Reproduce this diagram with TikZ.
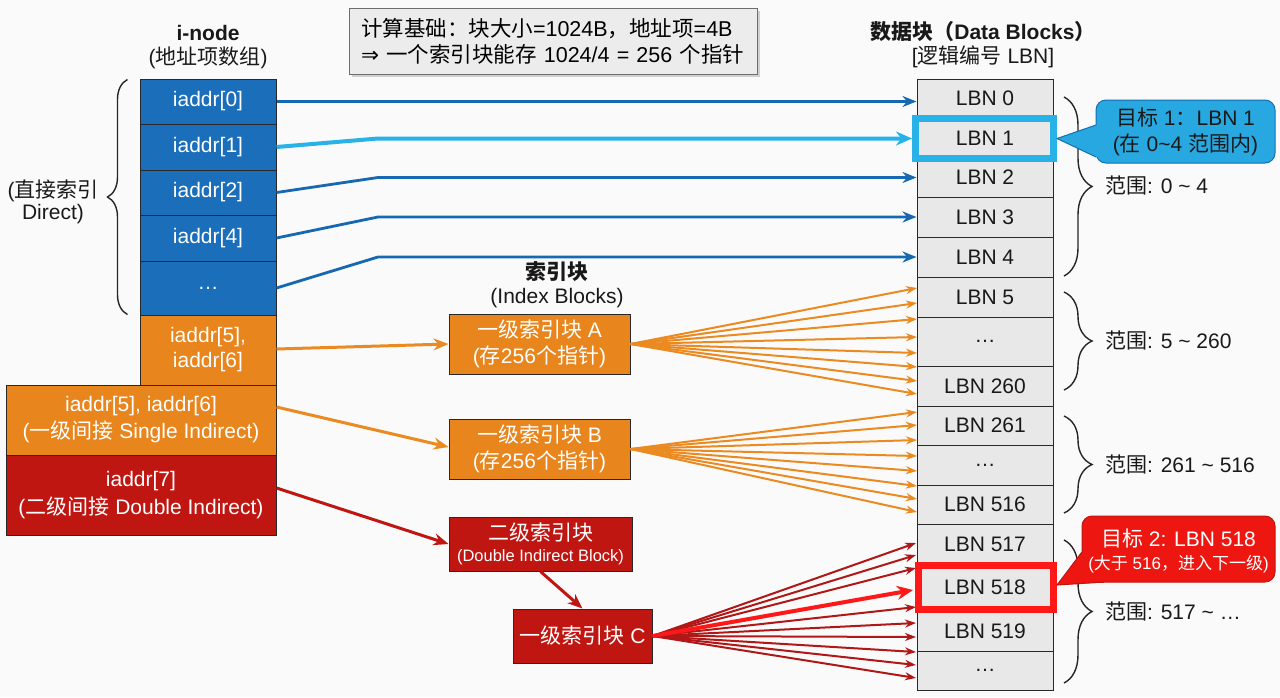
\documentclass[tikz,border=0pt]{standalone}
\usepackage{fontspec}
\setmainfont{Liberation Sans}
\newfontfamily\zhf{Noto Sans CJK SC}
\newfontfamily\symf{DejaVu Sans}
\newcommand{\zht}[1]{{\zhf #1}}
\usetikzlibrary{decorations.pathreplacing,shadows,arrows.meta,calc}
\definecolor{bgc}{RGB}{250,250,250}
\definecolor{edge}{RGB}{40,40,40}
\definecolor{dblue}{RGB}{26,110,186}
\definecolor{ablue}{RGB}{22,104,176}
\definecolor{lblue}{RGB}{40,178,232}
\definecolor{cblue}{RGB}{40,168,224}
\definecolor{cbluedk}{RGB}{20,110,180}
\definecolor{orng}{RGB}{232,133,28}
\definecolor{aorng}{RGB}{234,138,32}
\definecolor{rdf}{RGB}{192,22,18}
\definecolor{ardk}{RGB}{176,24,24}
\definecolor{brred}{RGB}{255,24,24}
\definecolor{cred}{RGB}{238,22,16}
\definecolor{dgray}{RGB}{232,232,232}
\definecolor{notef}{RGB}{236,236,236}
\definecolor{noted}{RGB}{110,110,110}
\begin{document}
\begin{tikzpicture}[x=1pt,y=-1pt,
  every node/.style={font=\fontsize{21}{26}\selectfont, inner sep=0pt},
  cell/.style={draw=edge, line width=1pt, minimum width=136pt, align=center},
  dirc/.style={cell, fill=dblue, text=white},
  orc/.style={cell, fill=orng, text=white},
  redc/.style={cell, fill=rdf, text=white},
  datc/.style={cell, fill=dgray, text=black!90},
  idxbox/.style={draw=edge, line width=1pt, align=center, text=white},
  hl/.style={line width=7pt},
  arblue/.style={draw=ablue, line width=2.8pt, -{Stealth[length=14pt,width=11pt]}},
  arlblue/.style={draw=lblue, line width=4pt, -{Stealth[length=16pt,width=14pt]}},
  arorng/.style={draw=aorng, line width=3pt, -{Stealth[length=15pt,width=12pt]}},
  arred/.style={draw=rdf, line width=3pt, -{Stealth[length=15pt,width=12pt]}},
  fana/.style={draw=aorng, line width=2pt, -{Stealth[length=11pt,width=8pt]}},
  fanc/.style={draw=ardk, line width=2pt, -{Stealth[length=11pt,width=8pt]}},
  fanhot/.style={draw=brred, line width=4pt, -{Stealth[length=16pt,width=14pt]}},
  brc/.style={draw=black!85, line width=1.4pt, decorate},
  rng/.style={anchor=west, text=black!90},
  hdr/.style={text=black!90},
  cbox/.style={line width=1pt, rounded corners=10pt}
]
\fill[bgc] (0,0) rectangle (1280,697);
\useasboundingbox (0,0) rectangle (1280,697);

% headers
\node[hdr] (ihead) at (208,33) {\bfseries i-node};
\node[hdr] (isub) at (208,58) {(\zht{地址项数组})};
\node[hdr] (dhead) at (983,32) {\bfseries\zht{数据块（}Data Blocks\zht{）}};
\node[hdr] (dsub) at (983,57) {[\zht{逻辑编号} LBN]};
\node[hdr] (xhead) at (557,272) {\bfseries\zht{索引块}};
\node[hdr] (xsub) at (557,298) {(Index Blocks)};

% note box
\node[draw=noted, fill=notef, line width=1pt, text width=384pt, inner xsep=12pt,
      minimum height=66pt, align=left, font=\fontsize{21.5}{26}\selectfont,
      drop shadow={shadow xshift=3pt, shadow yshift=-3pt, opacity=0.35}] (note) at (553,41)
  {\zht{计算基础：块大小}=1024B\zht{，地址项}=4B\\{\symf ⇒} \zht{一个索引块能存} 1024/4 = 256 \zht{个指针}};

% i-node column
\node[dirc, minimum height=45pt] (i0) at (208,101.5) {iaddr[0]};
\node[dirc, minimum height=46pt] (i1) at (208,147) {iaddr[1]};
\node[dirc, minimum height=45pt] (i2) at (208,192.5) {iaddr[2]};
\node[dirc, minimum height=46pt] (i4) at (208,238) {iaddr[4]};
\node[dirc, minimum height=54pt] (id) at (208,288) {…};
\node[orc, minimum height=70pt, font=\fontsize{21}{25}\selectfont] (i56) at (208,350) {iaddr[5],\\iaddr[6]};
\node[orc, minimum width=270pt, minimum height=70pt, font=\fontsize{21}{27}\selectfont] (iw) at (141,420) {iaddr[5], iaddr[6]\\(\zht{一级间接} Single Indirect)};
\node[redc, minimum width=270pt, minimum height=80pt, font=\fontsize{21}{28}\selectfont] (i7) at (141,495) {iaddr[7]\\(\zht{二级间接} Double Indirect)};

% left brace
\draw[brc, decoration={brace, amplitude=20pt}] ([xshift=-12pt,yshift=1pt]id.south west) -- ([xshift=-12pt,yshift=-1pt]i0.north west);
\node[hdr, align=center, font=\fontsize{21}{22}\selectfont] (dirlab) at (53,202) {(\zht{直接索引}\\Direct)};

% data column
\node[datc, minimum height=39pt] (d0) at (985,98.5) {LBN 0};
\node[datc, minimum height=40pt] (d1) at (985,138) {LBN 1};
\node[datc, minimum height=39pt] (d2) at (985,177.5) {LBN 2};
\node[datc, minimum height=40pt] (d3) at (985,217) {LBN 3};
\node[datc, minimum height=40pt] (d4) at (985,257) {LBN 4};
\node[datc, minimum height=40pt] (d5) at (985,297) {LBN 5};
\node[datc, minimum height=49pt] (e1) at (985,341.5) {…};
\node[datc, minimum height=40pt] (d260) at (985,386) {LBN 260};
\node[datc, minimum height=39pt] (d261) at (985,425.5) {LBN 261};
\node[datc, minimum height=40pt] (e2) at (985,465) {…};
\node[datc, minimum height=39pt] (d516) at (985,504.5) {LBN 516};
\node[datc, minimum height=40pt] (d517) at (985,544) {LBN 517};
\node[datc, minimum height=47pt] (d518) at (985,587.5) {LBN 518};
\node[datc, minimum height=40pt] (d519) at (985,631) {LBN 519};
\node[datc, minimum height=39pt] (e3) at (985,670.5) {…};

% index blocks
\node[idxbox, fill=orng, minimum width=181pt, minimum height=60pt] (ia) at (539.5,344) {\zht{一级索引块} A\\(\zht{存}256\zht{个指针})};
\node[idxbox, fill=orng, minimum width=181pt, minimum height=60pt] (ib) at (539.5,449) {\zht{一级索引块} B\\(\zht{存}256\zht{个指针})};
\node[idxbox, fill=rdf, minimum width=183pt, minimum height=54pt, font=\fontsize{21}{21}\selectfont] (idb) at (540.5,544) {\zht{二级索引块}\\{\fontsize{16.5}{20}\selectfont(Double Indirect Block)}};
\node[idxbox, fill=rdf, minimum width=139pt, minimum height=54pt] (ic) at (582.5,636) {\zht{一级索引块} C};

% direct arrows
\coordinate (kx) at (378,0);
\draw[arblue] (i0.east) -- (i0.east -| d0.west);
\draw[arblue] (i2.east) -- (kx |- d2.west) -- (d2.west);
\draw[arblue] (i4.east) -- (kx |- d3.west) -- (d3.west);
\draw[arblue] (id.east) -- (kx |- d4.west) -- (d4.west);

% indirect arrows
\draw[arorng] ([yshift=1pt]i56.east) -- (ia.west);
\draw[arorng] ([yshift=13pt]iw.east) -- ([yshift=2pt]ib.west);
\draw[arred] ([yshift=7pt]i7.east) -- (idb.west);
\draw[arred] (idb.south) -- (ic.north);

% fans
\foreach \yy [count=\k] in {288,303,319,337,353,367,381,394}{
  \coordinate (ta\k) at (917,\yy);
  \draw[fana] (ia.east) -- (ta\k);
}
\foreach \yy [count=\k] in {412,425,440,456,471,486,499,512}{
  \coordinate (tb\k) at (917,\yy);
  \draw[fana] (ib.east) -- (tb\k);
}
\foreach \yy [count=\k] in {543,555,568,607,623,637,652,665,678}{
  \coordinate (tc\k) at (916,\yy);
  \draw[fanc] (ic.east) -- (tc\k);
}

% highlights
\node[draw=lblue, hl, minimum width=138pt, minimum height=40pt] (hl1) at (984.5,138.5) {};
\node[draw=brred, hl, minimum width=135pt, minimum height=44pt] (hl2) at (986,587.5) {};
\draw[arlblue] (i1.east) -- (kx |- hl1.west) -- (hl1.west);
\coordinate (hot) at (913,590);
\draw[fanhot] (ic.east) -- (hot);

% right braces
\draw[brc, decoration={brace, amplitude=28pt}] (1064,97) -- (1064,276);
\node[rng] (r1) at (1105,186) {\zht{范围}: 0 \textasciitilde{} 4};
\draw[brc, decoration={brace, amplitude=28pt}] (1064,292) -- (1064,390);
\node[rng] (r2) at (1105,341) {\zht{范围}: 5 \textasciitilde{} 260};
\draw[brc, decoration={brace, amplitude=28pt}] (1064,416) -- (1064,513);
\node[rng] (r3) at (1105,465) {\zht{范围}: 261 \textasciitilde{} 516};
\draw[brc, decoration={brace, amplitude=28pt}] (1064,540) -- (1064,683);
\node[rng] (r4) at (1105,611) {\zht{范围}: 517 \textasciitilde{} …};

% callout 1
\node[cbox, fill=cblue, draw=cbluedk, minimum width=179pt, minimum height=63pt] (c1) at (1185.5,131.5) {};
\fill[cblue] (hl1.east) -- (1096,125) -- (1106,125) -- (1106,157) -- (1096,157) -- cycle;
\draw[cbluedk, line width=1pt] (1096,125) -- (hl1.east) -- (1096,157);
\node[align=center, text=black!90] (c1t) at (c1.center)
  {\zht{目标} 1\zht{：}LBN 1\\(\zht{在} 0\textasciitilde4 \zht{范围内})};

% callout 2
\node[cbox, fill=cred, draw=rdf, minimum width=193pt, minimum height=66pt] (c2) at (1178.5,549) {};
\fill[cred] (hl2.east |- 0,585) -- (1081.5,552) -- (1100,560) -- (1104,582.5) -- cycle;
\draw[rdf, line width=1pt] (1082,552) -- (hl2.east |- 0,585) -- (1104,582);
\node[align=center, text=white] (c2t) at ([yshift=-2pt]c2.center)
  {\zht{目标} 2: LBN 518\\[-3pt]{\fontsize{17}{20}\selectfont(\zht{大于} 516\zht{，进入下一级})}};
\end{tikzpicture}
\end{document}
